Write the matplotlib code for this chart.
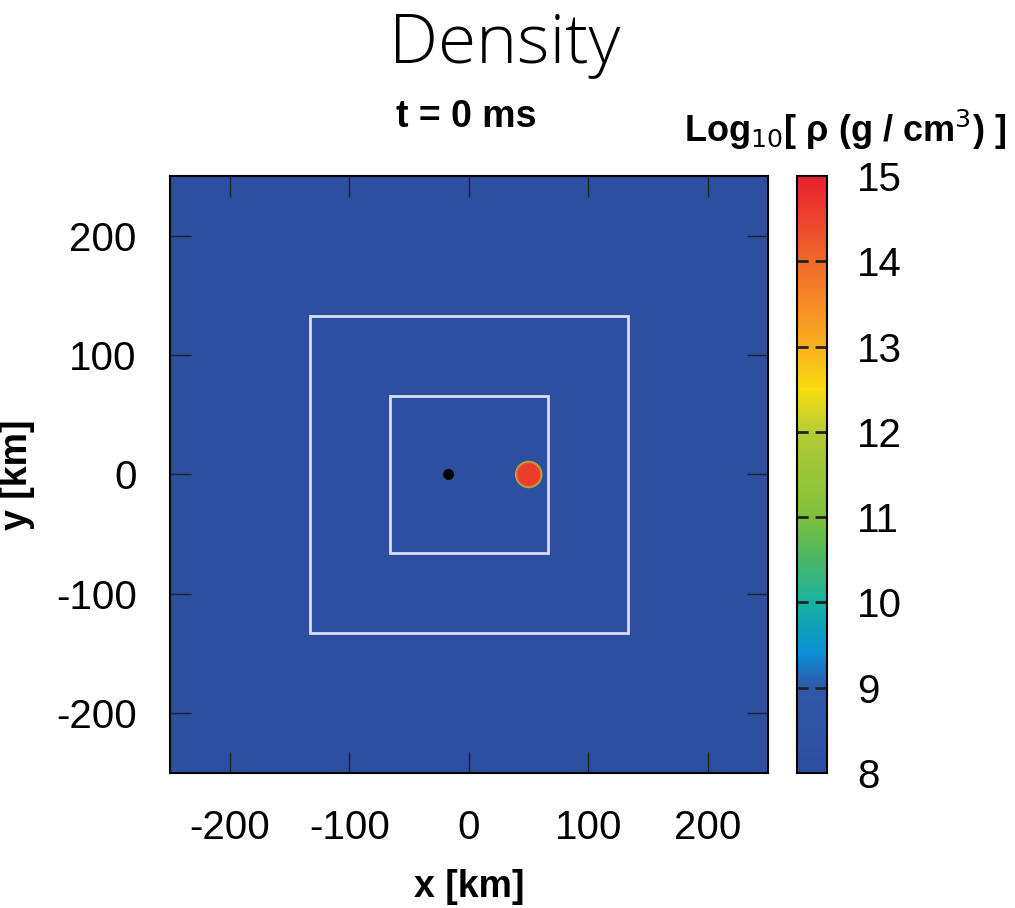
import matplotlib
matplotlib.use('Agg')
import matplotlib.pyplot as plt
import numpy as np
from matplotlib.colors import LinearSegmentedColormap, Normalize
from matplotlib.patches import Circle, Rectangle
from matplotlib.cm import ScalarMappable

plt.rcParams['axes.unicode_minus'] = False

# Grid / field data (km, log10 density)
xlim = [-250, 250]
ylim = [-250, 250]
ticks = [-200, -100, 0, 100, 200]
background_logrho = 8.0
box_half_widths = [133, 66]

# Neutron star: concentric shells (radius km, log10 rho)
ns_center = (50, 0)
ns_radii = [11.5, 10.7, 9.5]
ns_logrho = [11.3, 13.9, 14.6]

# Black hole
bh_center = (-17, 0)
bh_radius = 4

cbar_ticks = [8, 9, 10, 11, 12, 13, 14, 15]

# palette similar to the gnuplot one in the figure
pal = [(0.0, '#2c4fa0'), (1/7, '#2f58a8'), (1.4/7, '#0a8fd6'), (2/7, '#18b3a0'),
       (2.6/7, '#55b85a'), (3/7, '#7ebf3c'), (4/7, '#b5cc35'), (4.5/7, '#fadc10'),
       (5/7, '#fbb020'), (6/7, '#f06a2c'), (1.0, '#e8202c')]
cmap = LinearSegmentedColormap.from_list('dens', pal)
norm = Normalize(8, 15)

fig = plt.figure(figsize=(10.15, 9.08), dpi=100)
ax = fig.add_axes([0.1675, 0.1487, 0.589, 0.6575])
ax.set_facecolor(cmap(norm(background_logrho)))

for h in box_half_widths:
    ax.add_patch(Rectangle((-h, -h), 2 * h, 2 * h, fill=False,
                           ec='#dcdcf2', lw=2, zorder=2))
for r, v in zip(ns_radii, ns_logrho):
    ax.add_patch(Circle(ns_center, r, color=cmap(norm(v)), lw=0, zorder=3))
ax.add_patch(Circle(bh_center, bh_radius, color='black', zorder=3))

ax.set_xlim(xlim)
ax.set_ylim(ylim)
ax.set_aspect('auto')
ax.set_xticks(ticks)
ax.set_yticks(ticks)
ax.tick_params(direction='in', length=15, width=1, top=True, right=True,
               labelsize=29, color='#222222')
ax.tick_params(axis='x', pad=26)
ax.tick_params(axis='y', pad=24)
for lab in ax.get_xticklabels() + ax.get_yticklabels():
    lab.set_family('Liberation Sans')
ax.set_xlabel('x [km]', fontsize=27, family='Liberation Sans', fontweight='bold', labelpad=16)
ax.set_ylabel('y [km]', fontsize=27, family='Liberation Sans', fontweight='bold')
ax.yaxis.set_label_coords(-0.225, 0.5)
for s in ax.spines.values():
    s.set_linewidth(1.5)

cax = fig.add_axes([0.785, 0.1487, 0.0296, 0.6575])
cb = fig.colorbar(ScalarMappable(norm=norm, cmap=cmap), cax=cax)
cb.set_ticks(cbar_ticks)
cax.tick_params(length=0, labelsize=29, pad=22)
for lab in cax.get_yticklabels():
    lab.set_family('Liberation Sans')
cax.hlines(cbar_ticks[1:-1], 0, 1, transform=cax.get_yaxis_transform(),
           colors='#222222', lw=2, linestyles=(0, (4, 2.5)))
cb.outline.set_linewidth(1.5)

fig.text(0.497, 0.95, 'Density', ha='center', va='center', fontsize=50,
         family='Open Sans', fontweight='light')
fig.text(0.459, 0.871, 't = 0 ms', ha='center', va='center', fontsize=27,
         family='Liberation Sans', fontweight='bold')
fig.text(0.833, 0.857, 'Log$_{10}$[ ρ (g / cm$^3$) ]', ha='center', va='center',
         fontsize=26, family='Liberation Sans', fontweight='bold')

fig.savefig('out.png', dpi=100)
